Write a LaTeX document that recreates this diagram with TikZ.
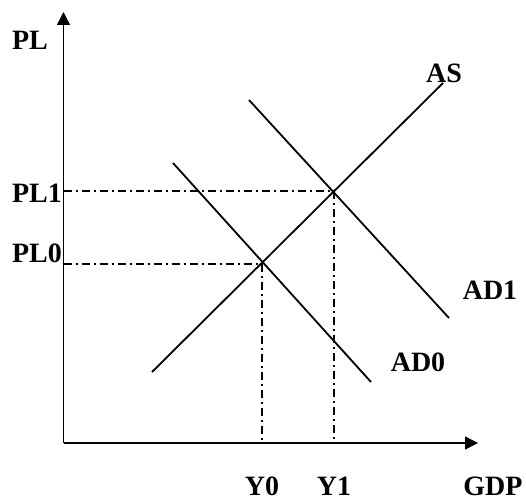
\documentclass[tikz,border=0pt]{standalone}
\usepackage{fontspec}
\setmainfont{Liberation Serif}
\usetikzlibrary{arrows.meta}
\begin{document}
\begin{tikzpicture}[x=1pt,y=-1pt,
  lbl/.style={font=\fontsize{28}{30}\selectfont\bfseries, inner sep=0pt},
  axis/.style={line width=1.4pt, -{Triangle[length=13pt,width=13pt]}},
  curve/.style={line width=1.8pt},
  guide/.style={line width=1.2pt, dash pattern=on 8pt off 4pt on 2pt off 4pt}]
\useasboundingbox (0,0) rectangle (526,500);
% axes
\coordinate (O) at (63.5,443);
\coordinate (ytop) at (63.5,12);
\coordinate (xend) at (478,443);
\draw[axis] (O) -- (ytop);
\draw[axis] (O) -- (xend);
% curves
\coordinate (as1) at (152,372);
\coordinate (as2) at (443,83);
\coordinate (ad0a) at (173,163);
\coordinate (ad0b) at (371,382);
\coordinate (ad1a) at (249,100);
\coordinate (ad1b) at (449,318);
\draw[curve] (as1) -- (as2);
\draw[curve] (ad0a) -- (ad0b);
\draw[curve] (ad1a) -- (ad1b);
% equilibria
\coordinate (E0) at (262,264);
\coordinate (E1) at (334,191);
\coordinate (pl0) at (63.5,264);
\coordinate (pl1) at (63.5,191);
\coordinate (y0) at (262,443);
\coordinate (y1) at (334,443);
\draw[guide] (pl0) -- (E0) -- (y0);
\draw[guide] (pl1) -- (E1) -- (y1);
% labels
\node[lbl] (PL) at (30,40) {PL};
\node[lbl] (PL1) at (37,193) {PL1};
\node[lbl] (PL0) at (37,253) {PL0};
\node[lbl] (AS) at (444,73) {AS};
\node[lbl] (AD1) at (490,290) {AD1};
\node[lbl] (AD0) at (418,362) {AD0};
\node[lbl] (Y0) at (262,486) {Y0};
\node[lbl] (Y1) at (334,486) {Y1};
\node[lbl] (GDP) at (493,486) {GDP};
\end{tikzpicture}
\end{document}
